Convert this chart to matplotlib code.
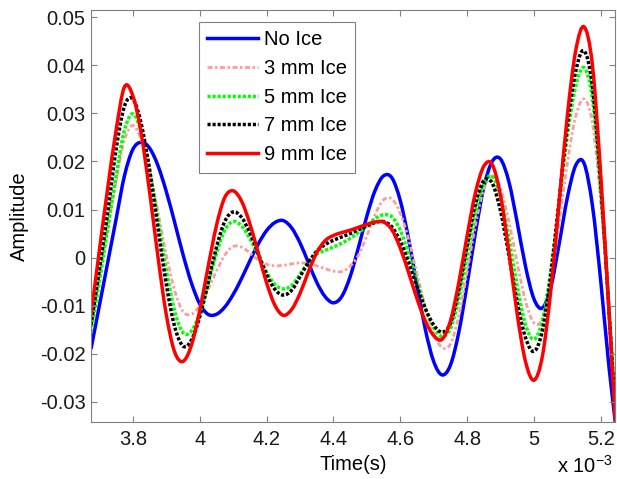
import numpy as np
import matplotlib
matplotlib.use("Agg")
import matplotlib.pyplot as plt
from matplotlib.path import Path
from matplotlib.patches import PathPatch
from matplotlib.lines import Line2D

plt.rcParams['font.family'] = ['Liberation Sans', 'DejaVu Sans']
plt.rcParams['mathtext.fontset'] = 'custom'
plt.rcParams['mathtext.rm'] = 'Liberation Sans'

# time axis in units of 1e-3 s (read every 0.025e-3 s)
time_ms = np.round(np.arange(3.675, 5.2501, 0.025), 3)

no_ice = [-0.0190, -0.0100, -0.0010, 0.0080, 0.0170, 0.0225, 0.0240, 0.0228,
          0.0192, 0.0138, 0.0074, 0.0007, -0.0052, -0.0096, -0.0118, -0.0118,
          -0.0103, -0.0077, -0.0044, -0.0007, 0.0028, 0.0056, 0.0073, 0.0077,
          0.0062, 0.0031, -0.0010, -0.0051, -0.0081, -0.0094, -0.0081, -0.0040,
          0.0021, 0.0086, 0.0140, 0.0170, 0.0166, 0.0119, 0.0039, -0.0057,
          -0.0149, -0.0216, -0.0244, -0.0224, -0.0156, -0.0056, 0.0052, 0.0146,
          0.0200, 0.0205, 0.0158, 0.0073, -0.0019, -0.0086, -0.0105, -0.0063,
          0.0027, 0.0125, 0.0192, 0.0196, 0.0108, -0.0050, -0.0231, -0.0379]

ice_3mm = [-0.0135, -0.0040, 0.0060, 0.0160, 0.0245, 0.0275, 0.0245, 0.0181,
           0.0096, 0.0006, -0.0068, -0.0112, -0.0118, -0.0100, -0.0067, -0.0028,
           0.0005, 0.0023, 0.0022, 0.0010, -0.0005, -0.0014, -0.0017, -0.0016,
           -0.0013, -0.0011, -0.0012, -0.0017, -0.0023, -0.0028, -0.0029, -0.0018,
           0.0005, 0.0045, 0.0090, 0.0120, 0.0122, 0.0093, 0.0038, -0.0033,
           -0.0103, -0.0158, -0.0187, -0.0180, -0.0122, -0.0030, 0.0068, 0.0142,
           0.0170, 0.0144, 0.0076, -0.0012, -0.0091, -0.0136, -0.0127, -0.0051,
           0.0069, 0.0197, 0.0294, 0.0330, 0.0280, 0.0115, -0.0120, -0.0400]

ice_5mm = [-0.0155, -0.0050, 0.0060, 0.0170, 0.0265, 0.0299, 0.0263, 0.0185,
           0.0081, -0.0025, -0.0111, -0.0156, -0.0153, -0.0116, -0.0056, 0.0008,
           0.0057, 0.0075, 0.0066, 0.0040, 0.0005, -0.0030, -0.0056, -0.0065,
           -0.0058, -0.0035, -0.0010, 0.0007, 0.0015, 0.0022, 0.0030, 0.0040,
           0.0052, 0.0066, 0.0081, 0.0089, 0.0085, 0.0057, 0.0008, -0.0049,
           -0.0105, -0.0146, -0.0164, -0.0148, -0.0087, 0.0003, 0.0092, 0.0153,
           0.0169, 0.0127, 0.0041, -0.0060, -0.0140, -0.0170, -0.0132, -0.0029,
           0.0113, 0.0254, 0.0357, 0.0395, 0.0330, 0.0140, -0.0110, -0.0390]

ice_7mm = [-0.0140, -0.0025, 0.0095, 0.0225, 0.0315, 0.0330, 0.0279, 0.0183,
           0.0063, -0.0055, -0.0143, -0.0184, -0.0172, -0.0124, -0.0053, 0.0021,
           0.0075, 0.0095, 0.0084, 0.0052, 0.0009, -0.0035, -0.0066, -0.0078,
           -0.0068, -0.0040, -0.0010, 0.0013, 0.0027, 0.0036, 0.0043, 0.0050,
           0.0058, 0.0066, 0.0073, 0.0075, 0.0064, 0.0034, -0.0010, -0.0060,
           -0.0106, -0.0140, -0.0155, -0.0137, -0.0069, 0.0024, 0.0111, 0.0160,
           0.0155, 0.0097, 0.0005, -0.0093, -0.0167, -0.0195, -0.0153, -0.0039,
           0.0118, 0.0274, 0.0388, 0.0430, 0.0355, 0.0150, -0.0115, -0.0400]

ice_9mm = [-0.0120, 0.0015, 0.0145, 0.0265, 0.0355, 0.0337, 0.0259, 0.0138,
           0.0003, -0.0118, -0.0196, -0.0216, -0.0183, -0.0111, -0.0020, 0.0066,
           0.0125, 0.0139, 0.0118, 0.0071, 0.0010, -0.0052, -0.0099, -0.0120,
           -0.0108, -0.0075, -0.0030, 0.0010, 0.0035, 0.0046, 0.0052, 0.0057,
           0.0063, 0.0069, 0.0074, 0.0074, 0.0058, 0.0020, -0.0031, -0.0085,
           -0.0132, -0.0162, -0.0170, -0.0132, -0.0053, 0.0045, 0.0135, 0.0190,
           0.0194, 0.0129, 0.0012, -0.0118, -0.0217, -0.0255, -0.0206, -0.0071,
           0.0113, 0.0296, 0.0431, 0.0480, 0.0400, 0.0170, -0.0120, -0.0420]

labels = ["No Ice", "3 mm Ice", "5 mm Ice", "7 mm Ice", "9 mm Ice"]
x_ticks = [3.8, 4.0, 4.2, 4.4, 4.6, 4.8, 5.0, 5.2]
x_ticklabels = ["3.8", "4", "4.2", "4.4", "4.6", "4.8", "5", "5.2"]
y_ticks = [-0.03, -0.02, -0.01, 0, 0.01, 0.02, 0.03, 0.04, 0.05]
y_ticklabels = ["-0.03", "-0.02", "-0.01", "0", "0.01", "0.02", "0.03", "0.04", "0.05"]

FS = 14.5
dotted = (0, (0.9, 0.55))
dashdot = (0, (1.8, 0.9, 0.9, 0.9))
styles = [
    dict(color="#0000ff", lw=2.5, ls="-"),
    dict(color="#ff9c9c", lw=2.0, ls=dashdot),
    dict(color="#00ff00", lw=2.5, ls=dotted),
    dict(color="black", lw=2.5, ls=dotted),
    dict(color="#ff0000", lw=2.5, ls="-"),
]


def smooth_path(x, y):
    """Smooth curve through every read sample (Catmull-Rom as cubic Bezier)."""
    pts = np.column_stack([x, y])
    p = np.vstack([pts[0], pts, pts[-1]])
    verts = [pts[0]]
    codes = [Path.MOVETO]
    for i in range(1, len(p) - 2):
        p0, p1, p2, p3 = p[i - 1], p[i], p[i + 1], p[i + 2]
        verts += [p1 + (p2 - p0) / 6, p2 - (p3 - p1) / 6, p2]
        codes += [Path.CURVE4] * 3
    return Path(verts, codes)


fig = plt.figure(figsize=(6.17, 4.79), dpi=100)
ax = fig.add_axes([0.1475, 0.119, 0.849, 0.860])

handles = []
for series, st, lab in zip([no_ice, ice_3mm, ice_5mm, ice_7mm, ice_9mm], styles, labels):
    ax.add_patch(PathPatch(smooth_path(time_ms, series), facecolor="none",
                           edgecolor=st["color"], lw=st["lw"], ls=st["ls"]))
    handles.append(Line2D([], [], color=st["color"], lw=st["lw"], ls=st["ls"], label=lab))

ax.set_xlim(3.675, 5.242)
ax.set_ylim(-0.0342, 0.0515)
ax.set_xticks(x_ticks)
ax.set_xticklabels(x_ticklabels)
ax.set_yticks(y_ticks)
ax.set_yticklabels(y_ticklabels)
ax.tick_params(direction="in", top=True, right=True, length=4, width=0.8,
               color="#808080", labelsize=FS, labelcolor="#1a1a1a")
ax.tick_params(axis="x", pad=6)
ax.tick_params(axis="y", pad=4)
for sp in ax.spines.values():
    sp.set_color("#808080")
    sp.set_linewidth(0.8)

ax.set_xlabel("Time(s)", fontsize=FS, labelpad=4)
ax.set_ylabel("Amplitude", fontsize=FS, labelpad=8)
fig.text(613 / 617, 0.012, r"x 10$^{-3}$", fontsize=FS, ha="right", va="baseline")

leg = ax.legend(handles=handles, loc="upper left", bbox_to_anchor=(0.206, 0.971),
                borderaxespad=0, fancybox=False, framealpha=1, edgecolor="#808080",
                fontsize=FS, handlelength=2.5, labelspacing=0.48,
                handletextpad=0.3, borderpad=0.42)
leg.get_frame().set_linewidth(0.8)

fig.savefig("out.png", dpi=100)
